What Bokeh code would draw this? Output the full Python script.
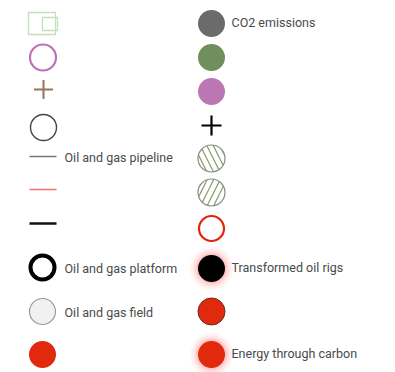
from bokeh.plotting import figure
from bokeh.models import Range1d
from bokeh.embed import file_html
from bokeh.resources import INLINE
from bokeh.core.properties import value

# legend slots (row centres, in page pixels)
left_rows = [22, 57, 89, 127, 156, 189, 223, 267, 311, 354]
right_rows = [23, 57, 91, 125, 158, 192, 228, 268, 311, 354]
left_x = 42
right_x = 211

left_labels = ["", "", "", "", "Oil and gas pipeline", "", "",
               "Oil and gas platform", "Oil and gas field", ""]
right_labels = ["CO2 emissions", "", "", "", "", "", "",
                "Transformed oil rigs", "", "Energy through carbon"]

fill_dots = ["#6b6b6b", "#6f8f5c", "#bb77b3"]

p = figure(width=395, height=372, x_range=Range1d(0, 395), y_range=Range1d(372, 0),
           output_backend="svg", toolbar_location=None, min_border=0,
           x_axis_type=None, y_axis_type=None)
p.grid.visible = False
p.outline_line_color = None
p.background_fill_color = "white"
p.border_fill_color = "white"

TXT = dict(text_font=value("Roboto"), text_font_size="12.5px", text_color="#4a4a4a",
           text_baseline="middle", text_align="left")

# ---- left column ----
y = left_rows
p.rect(x=[left_x - 0.5], y=[y[0] + 1], width=27, height=22, fill_color=None,
       line_color="#c4dfbc", line_width=1.3)
p.rect(x=[left_x + 7.5], y=[y[0] + 1.5], width=15, height=13, fill_color=None,
       line_color="#c4dfbc", line_width=1.3)
p.scatter(x=[left_x + 0.5], y=[y[1]], size=26, marker="circle", fill_color=None,
          line_color="#c070b8", line_width=2.2)
p.scatter(x=[left_x + 1], y=[y[2]], size=19, marker="cross", line_color="#9a7356",
          line_width=2)
p.scatter(x=[left_x + 1], y=[y[3]], size=26, marker="circle", fill_color=None,
          line_color="#444444", line_width=1.4)
p.segment(x0=[left_x - 13], y0=[y[4]], x1=[left_x + 14], y1=[y[4]],
          line_color="#777777", line_width=1.6)
p.segment(x0=[left_x - 13], y0=[y[5]], x1=[left_x + 14], y1=[y[5]],
          line_color="#f07070", line_width=1.6)
p.segment(x0=[left_x - 13], y0=[y[6]], x1=[left_x + 14], y1=[y[6]],
          line_color="#111111", line_width=2.4)
p.scatter(x=[left_x], y=[y[7]], size=24, marker="circle", fill_color=None,
          line_color="#000000", line_width=4)
p.scatter(x=[left_x], y=[y[8]], size=26, marker="circle", fill_color="#f1f1f1",
          line_color="#9a9a9a", line_width=1.2)
p.scatter(x=[left_x], y=[y[9]], size=27, marker="circle", fill_color="#e0290d",
          line_color=None)

# ---- right column ----
y = right_rows
p.scatter(x=[right_x] * 3, y=y[0:3], size=27, marker="circle", fill_color=fill_dots,
          line_color=None)
p.scatter(x=[right_x], y=[y[3]], size=20, marker="cross", line_color="#000000",
          line_width=2.2)
p.scatter(x=[right_x], y=[y[4]], size=27, marker="circle", fill_color="white",
          line_color="#8a8a8a", line_width=1.2, hatch_pattern="left_diagonal_line",
          hatch_color="#7f9c66", hatch_scale=13, hatch_weight=1.2)
p.scatter(x=[right_x], y=[y[5]], size=27, marker="circle", fill_color="white",
          line_color="#8a8a8a", line_width=1.2, hatch_pattern="right_diagonal_line",
          hatch_color="#7f9c66", hatch_scale=13, hatch_weight=1.2)
p.scatter(x=[right_x], y=[y[6]], size=25, marker="circle", fill_color="white",
          line_color="#e4230f", line_width=2.2)
# glows
for s, a in [(44, 0.03), (41, 0.04), (38, 0.05), (35, 0.06), (32, 0.08), (30, 0.1)]:
    p.scatter(x=[right_x, right_x], y=[y[7], y[9]], size=s, marker="circle",
              fill_color="#ff4a4a", fill_alpha=a, line_color=None)
p.scatter(x=[right_x], y=[y[7]], size=27, marker="circle", fill_color="#000000",
          line_color=None)
p.scatter(x=[right_x], y=[y[8]], size=27, marker="circle", fill_color="#e0290d",
          line_color="#6a2a1a", line_width=1)
p.scatter(x=[right_x], y=[y[9]], size=27, marker="circle", fill_color="#e0290d",
          line_color=None)

# ---- labels ----
lx = [left_x + 22] * len(left_labels)
p.text(x=lx, y=[v + 1 for v in left_rows], text=left_labels, **TXT)
rx = [right_x + 20] * len(right_labels)
p.text(x=rx, y=[v - 1 for v in right_rows], text=right_labels, **TXT)

open("out.html", "w").write(file_html(p, INLINE))
